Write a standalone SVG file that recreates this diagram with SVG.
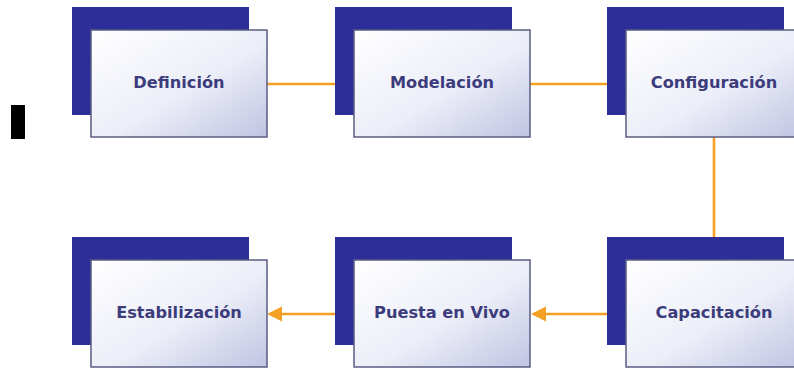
<svg xmlns="http://www.w3.org/2000/svg" width="794" height="368" viewBox="0 0 794 368">
<style>
.back{fill:#2e2e98;}
.front{fill:url(#g);stroke:#5a5c82;stroke-width:1.5;}
.lbl{font-family:"DejaVu Sans",Verdana,sans-serif;font-weight:bold;font-size:16.2px;fill:#3c3c7c;text-anchor:middle;}
.con{stroke:#f3a024;stroke-width:2.6;fill:none;}
</style>
<defs>
<linearGradient id="g" x1="0" y1="0" x2="1" y2="1">
<stop offset="0" stop-color="#ffffff"/>
<stop offset="0.55" stop-color="#eceef8"/>
<stop offset="1" stop-color="#c0c4e2"/>
</linearGradient>
</defs>
<rect x="11" y="105" width="14" height="34" fill="#000"/>
<g id="connectors">
<line class="con" x1="267" y1="84" x2="335" y2="84"/>
<line class="con" x1="530" y1="84" x2="607" y2="84"/>
<line class="con" x1="714" y1="137" x2="714" y2="237"/>
<path class="con" d="M607,314 L545,314"/>
<path d="M531,314 L546,306.5 L546,321.5 Z" fill="#f3a024"/>
<path class="con" d="M335,314 L281,314"/>
<path d="M267,314 L282,306.5 L282,321.5 Z" fill="#f3a024"/>
</g>
<g id="definicion">
<rect class="back" x="72" y="7" width="177" height="108"/>
<rect class="front" x="91" y="30" width="176" height="107"/>
<text class="lbl" x="179" y="88">Definición</text>
</g>
<g id="modelacion">
<rect class="back" x="335" y="7" width="177" height="108"/>
<rect class="front" x="354" y="30" width="176" height="107"/>
<text class="lbl" x="442" y="88">Modelación</text>
</g>
<g id="configuracion">
<rect class="back" x="607" y="7" width="177" height="108"/>
<rect class="front" x="626" y="30" width="176" height="107"/>
<text class="lbl" x="714" y="88">Configuración</text>
</g>
<g id="estabilizacion">
<rect class="back" x="72" y="237" width="177" height="108"/>
<rect class="front" x="91" y="260" width="176" height="107"/>
<text class="lbl" x="179" y="318">Estabilización</text>
</g>
<g id="puesta">
<rect class="back" x="335" y="237" width="177" height="108"/>
<rect class="front" x="354" y="260" width="176" height="107"/>
<text class="lbl" x="442" y="318">Puesta en Vivo</text>
</g>
<g id="capacitacion">
<rect class="back" x="607" y="237" width="177" height="108"/>
<rect class="front" x="626" y="260" width="176" height="107"/>
<text class="lbl" x="714" y="318">Capacitación</text>
</g>
</svg>
